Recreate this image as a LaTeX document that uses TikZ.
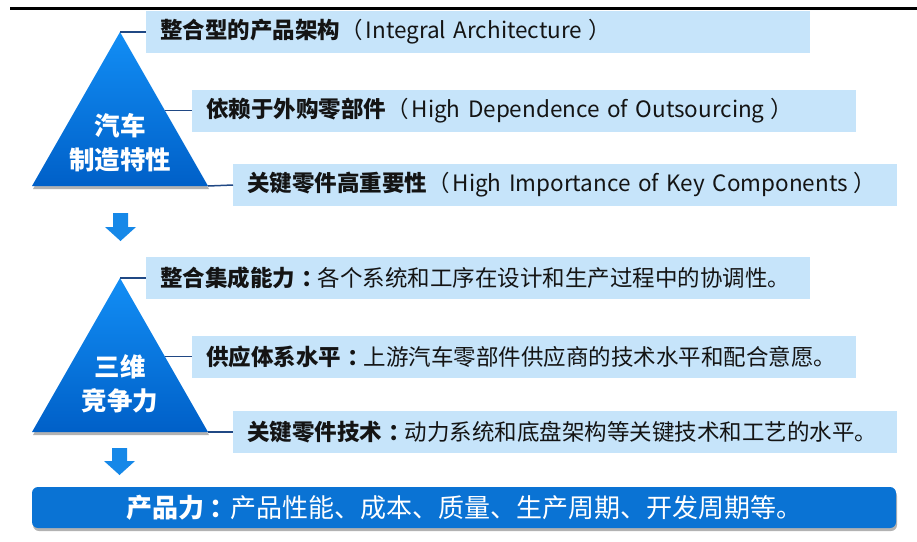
\documentclass[tikz,border=0pt]{standalone}
\usepackage{fontspec}
\setmainfont{Noto Sans CJK SC}
\usetikzlibrary{shadows}
\definecolor{lblue}{RGB}{198,228,250}
\definecolor{tritop}{RGB}{18,142,245}
\definecolor{tribot}{RGB}{0,96,200}
\definecolor{bblue}{RGB}{10,115,212}
\definecolor{arrblue}{RGB}{22,136,232}
\definecolor{connc}{RGB}{32,72,132}
\definecolor{txt}{RGB}{20,20,20}
\newcommand{\mycolon}{\hspace{6pt}：\hspace{-6pt}}
\newcommand{\lpar}{（\hspace{3pt}}
\newcommand{\rpar}{\hspace{6pt}）}
\tikzset{
  lbox/.style={fill=lblue, anchor=west, minimum height=42pt, inner xsep=14pt, inner ysep=0pt,
    text width=636pt, align=left, text=txt, font=\fontsize{22.5}{27}\selectfont},
  tri/.style={top color=tritop, bottom color=tribot,
    drop shadow={shadow xshift=1pt, shadow yshift=-3pt, opacity=0.3, fill=black}},
  tritext/.style={text=white, align=center, font=\fontsize{25.5}{34}\selectfont\bfseries},
  conn/.style={draw=connc, line width=1.5pt},
  bbox/.style={fill=bblue, rounded corners=6pt, minimum width=864pt, minimum height=41pt,
    text=white, font=\fontsize{26}{30}\selectfont,
    drop shadow={shadow xshift=1pt, shadow yshift=-3pt, opacity=0.3, fill=black}},
  downarr/.style={fill=arrblue}
}
\begin{document}
\begin{tikzpicture}[x=1pt,y=-1pt]
\useasboundingbox (0,0) rectangle (917,541);
\draw[line width=3pt] (10,8) -- (917,8);

% triangle 1
\coordinate (t1a) at (120,32);
\coordinate (t1l) at (32,186);
\coordinate (t1r) at (208,186);
\coordinate (t1m) at (165,110.5);
\path[tri] (t1a) -- (t1r) -- (t1l) -- cycle;
\node[tritext] (l1) at (120,143) {汽车\\制造特性};

\node[lbox] (b1) at (146,32) {\textbf{整合型的产品架构}\lpar Integral Architecture\rpar};
\node[lbox] (b2) at (192,110.5) {\textbf{依赖于外购零部件}\lpar High Dependence of Outsourcing\rpar};
\node[lbox] (b3) at (233,185) {\textbf{关键零件高重要性}\lpar High Importance of Key Components\rpar};
\draw[conn] (t1a) -- (b1.west);
\draw[conn] (t1m) -- (b2.west);
\draw[conn] (t1r) -- (b3.west);

% arrow 1
\fill[downarr] (113,213) -- (128,213) -- (128,227) -- (136,227) -- (120.5,241) -- (105,227) -- (113,227) -- cycle;

% triangle 2
\coordinate (t2a) at (120,278);
\coordinate (t2l) at (32,432);
\coordinate (t2r) at (208,432);
\coordinate (t2m) at (165,356.5);
\path[tri] (t2a) -- (t2r) -- (t2l) -- cycle;
\node[tritext] (l2) at (120,384) {三维\\竞争力};

\node[lbox] (b4) at (146,278) {\textbf{整合集成能力\mycolon}各个系统和工序在设计和生产过程中的协调性。};
\node[lbox] (b5) at (192,356.5) {\textbf{供应体系水平\mycolon}上游汽车零部件供应商的技术水平和配合意愿。};
\node[lbox] (b6) at (233,432) {\textbf{关键零件技术\mycolon}动力系统和底盘架构等关键技术和工艺的水平。};
\draw[conn] (t2a) -- (b4.west);
\draw[conn] (t2m) -- (b5.west);
\draw[conn] (t2r) -- (b6.west);

% arrow 2
\fill[downarr] (112,448) -- (127,448) -- (127,461) -- (135,461) -- (119.5,475) -- (104,461) -- (112,461) -- cycle;

% bottom box
\node[bbox] (pb) at (464,507.5) {\textbf{产品力\mycolon}产品性能、成本、质量、生产周期、开发周期等。\hspace{8pt}};
\end{tikzpicture}
\end{document}
